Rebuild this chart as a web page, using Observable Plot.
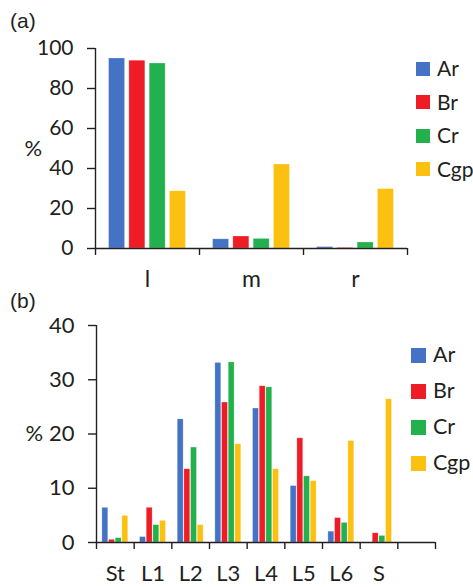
<!DOCTYPE html>
<html>
<head>
<meta charset="utf-8">
<script src="https://cdn.jsdelivr.net/npm/d3@7"></script>
<script src="https://cdn.jsdelivr.net/npm/@observablehq/plot@0.6"></script>
<style>
  html, body { margin: 0; padding: 0; background: #fff; }
  #wrap { position: relative; width: 473px; height: 587px; font-family: Lato, sans-serif; color: #231f20; }
  #wrap svg { display: block; }
  .panel-label { position: absolute; font-family: "Liberation Sans", Arial, sans-serif; font-size: 21px; line-height: 1; }
  .legend { position: absolute; }
  .legend .item { position: absolute; white-space: nowrap; line-height: 1; }
  .legend .sw { position: absolute; }
</style>
</head>
<body>
<div id="wrap"></div>
<script>
// ---- data ----
const series = ["Ar", "Br", "Cr", "Cgp"];
const colors = ["#4472C4", "#EE1C25", "#22B14C", "#FCC011"];

const catsA = ["l", "m", "r"];
const ArA  = [95.0, 4.6, 0.7];
const BrA  = [93.9, 6.0, 0.3];
const CrA  = [92.5, 4.8, 3.0];
const CgpA = [28.6, 42.0, 29.7];

const catsB = ["St", "L1", "L2", "L3", "L4", "L5", "L6", "S", ""];
const ArB  = [6.4, 1.0, 22.7, 33.1, 24.7, 10.4, 2.0, 0.0];
const BrB  = [0.5, 6.4, 13.5, 25.8, 28.8, 19.2, 4.5, 1.7];
const CrB  = [0.8, 3.2, 17.5, 33.2, 28.6, 12.2, 3.6, 1.2];
const CgpB = [4.9, 4.0, 3.2, 18.1, 13.5, 11.3, 18.7, 26.4];

const ticksA = [0, 20, 40, 60, 80, 100];
const ticksB = [0, 10, 20, 30, 40];

function table(cats, cols) {
  const rows = [];
  cats.forEach((c, i) => {
    series.forEach((s, k) => {
      if (cols[k][i] !== undefined) rows.push({cat: c, index: i, series: s, k, value: cols[k][i]});
    });
  });
  return rows;
}

const ink = "#231f20";

function panel({cats, rows, yTicks, yMax, width, height, margins, step, barW, fontSize, xFont, xPad}) {
  const n = cats.length;
  return Plot.plot({
    width, height,
    marginLeft: margins[0], marginRight: margins[1], marginTop: margins[2], marginBottom: margins[3],
    style: {fontFamily: "Lato, sans-serif", background: "#fff", color: ink, overflow: "visible"},
    x: {domain: [0, n], axis: null},
    y: {domain: [0, yMax], axis: null},
    color: {domain: series, range: colors},
    marks: [
      Plot.rectY(rows, {
        x1: d => d.index + 0.5 + (d.k - 1.5) * step - barW / 2,
        x2: d => d.index + 0.5 + (d.k - 1.5) * step + barW / 2,
        y: "value",
        fill: "series",
        stroke: "white", strokeOpacity: 0.45, strokeWidth: 0.6
      }),
      Plot.ruleY([0], {stroke: ink, strokeWidth: 1.4}),
      Plot.ruleX([0], {stroke: ink, strokeWidth: 1.4}),
      Plot.axisY({ticks: yTicks, tickSize: 8, tickPadding: 14, fontSize, stroke: ink, strokeWidth: 1.4, fill: ink, label: null}),
      Plot.axisX({ticks: d3.range(n + 1), tickSize: 7, tickFormat: () => "", stroke: ink, strokeWidth: 1.4, label: null}),
      Plot.axisX({ticks: d3.range(n).map(i => i + 0.5), tickSize: 0, tickPadding: xPad, fontSize: xFont, fill: ink,
                  tickFormat: v => cats[Math.floor(v)], label: null}),
      Plot.text(["%"], {frameAnchor: "left", dx: -71, fontSize: 22, fill: ink})
    ]
  });
}

const wrap = document.getElementById("wrap");

const plotA = panel({
  cats: catsA, rows: table(catsA, [ArA, BrA, CrA, CgpA]), yTicks: ticksA, yMax: 100,
  width: 473, height: 295, margins: [95, 66, 48, 47], step: 0.195, barW: 0.154, fontSize: 21, xFont: 23, xPad: 22
});
const plotB = panel({
  cats: catsB, rows: table(catsB, [ArB, BrB, CrB, CgpB]), yTicks: ticksB, yMax: 40,
  width: 473, height: 292, margins: [96, 38, 30, 45], step: 0.177, barW: 0.157, fontSize: 22, xFont: 22, xPad: 23
});
wrap.appendChild(plotA);
wrap.appendChild(plotB);

function label(text, left, top) {
  const d = document.createElement("div");
  d.className = "panel-label";
  d.textContent = text;
  d.style.left = left + "px";
  d.style.top = top + "px";
  wrap.appendChild(d);
}
label("(a)", 10, 10);
label("(b)", 10, 290);

function legend(left, top, gap, sw, fontSize, textGap) {
  const lg = document.createElement("div");
  lg.className = "legend";
  lg.style.left = left + "px";
  lg.style.top = top + "px";
  series.forEach((s, i) => {
    const box = document.createElement("div");
    box.className = "sw";
    box.style.cssText = `left:0;top:${i * gap - sw / 2}px;width:${sw}px;height:${sw}px;background:${colors[i]}`;
    const t = document.createElement("div");
    t.className = "item";
    t.textContent = s;
    t.style.cssText = `left:${sw + textGap}px;top:${i * gap - fontSize * 0.53}px;font-size:${fontSize}px`;
    lg.appendChild(box);
    lg.appendChild(t);
  });
  wrap.appendChild(lg);
}
legend(416, 68.5, 33.5, 14, 21, 7);
legend(411, 355.3, 36, 15, 21.5, 7);
</script>
</body>
</html>
